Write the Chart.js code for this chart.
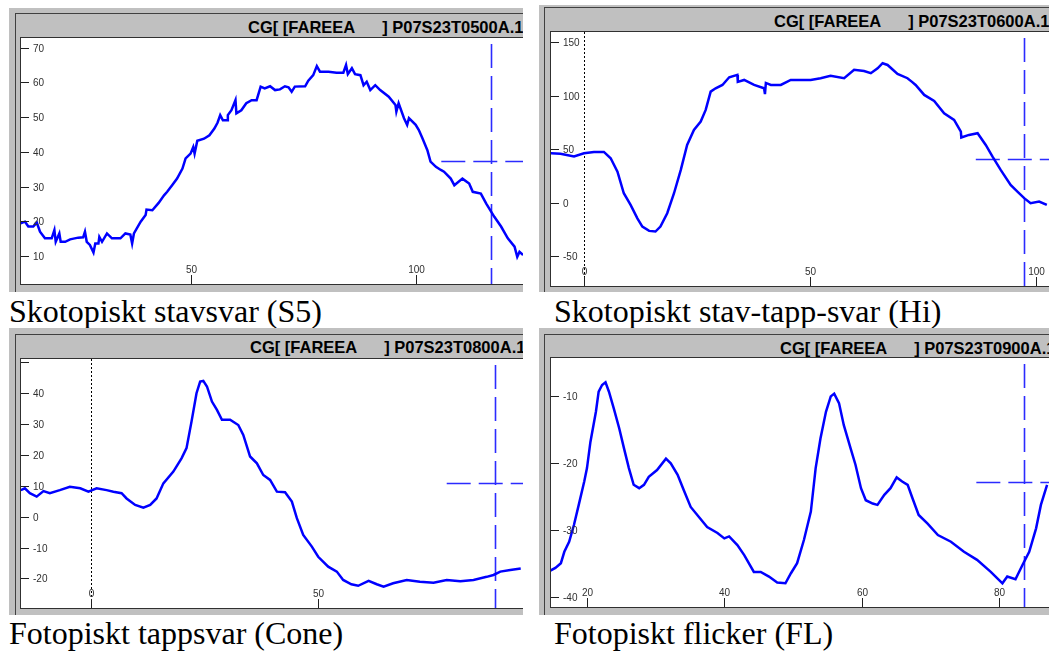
<!DOCTYPE html>
<html>
<head>
<meta charset="utf-8">
<script src="https://cdn.jsdelivr.net/npm/chart.js@4.4.0/dist/chart.umd.min.js"></script>
<style>
body { margin: 0; width: 1049px; height: 652px; background: #fff; position: relative; overflow: hidden; }
.panel { position: absolute; background: #c0c0c0; overflow: hidden; }
.frame { position: absolute; border-left: 1px solid #404040; border-top: 1px solid #404040; width: 2000px; height: 2000px; }
.title { position: absolute; font: bold 16.5px "Liberation Sans", Arial, sans-serif; line-height: 16.5px; white-space: pre; color: #000; }
.plot { position: absolute; background: #fff; border-left: 1px solid #303030; border-top: 1px solid #303030; border-bottom: 1px solid #303030; }
.plot canvas { display: block; }
.caption { position: absolute; font: 32px "Liberation Serif", "Times New Roman", serif; line-height: 32px; white-space: nowrap; color: #000; }
</style>
</head>
<body>
<script>
// --- data ---

// Skotopiskt stavsvar (S5)
var s5X = [11.95, 13.06, 13.8, 14.9, 15.7, 16.4, 17.5, 19.0, 19.6, 19.9,
	20.7, 21.0, 22.0, 23.1, 24.9, 26.0, 26.4, 26.8, 27.5, 28.3,
	28.7, 29.4, 29.6, 30.2, 31.3, 32.4, 34.3, 35.4, 36.5, 36.9,
	37.3, 38.8, 39.9, 40.1, 41.4, 42.8, 44.0, 44.7, 45.8, 46.9,
	48.1, 48.8, 49.9, 50.5, 50.8, 51.4, 52.9, 54.1, 55.2, 55.9,
	56.5, 57.1, 58.1, 58.2, 59.0, 59.9, 60.1, 61.2, 62.3, 63.5,
	64.6, 65.5, 66.4, 67.6, 68.7, 69.8, 70.9, 71.7, 72.4, 73.1,
	75.4, 76.1, 77.2, 78.0, 78.7, 80.6, 82.4, 83.9, 84.5, 84.9,
	85.8, 86.5, 87.7, 88.4, 89.1, 89.9, 91.0, 92.1, 94.0, 95.5,
	95.7, 96.2, 97.4, 98.1, 98.5, 100.0, 100.7, 101.5, 102.6, 103.3,
	104.5, 105.6, 106.3, 107.8, 108.6, 110.4, 111.9, 112.7, 114.5, 115.7,
	117.5, 119.0, 120.5, 122.0, 122.6, 123.1, 123.9];
var s5Y = [19.4, 19.9, 18.5, 18.5, 19.6, 17.0, 15.1, 15.1, 17.5, 14.1,
	16.5, 14.1, 14.1, 14.8, 15.3, 15.4, 17.0, 14.1, 13.2, 11.0,
	13.6, 13.6, 15.5, 14.1, 16.5, 15.1, 15.1, 16.5, 16.2, 13.6,
	16.5, 19.9, 21.8, 23.4, 23.2, 25.3, 27.5, 28.5, 30.4, 32.3,
	35.2, 38.1, 39.5, 41.4, 39.5, 43.2, 43.8, 44.8, 46.7, 48.4,
	50.6, 49.1, 49.1, 50.6, 52.0, 54.9, 51.1, 52.0, 54.0, 54.9,
	54.9, 58.8, 58.3, 58.9, 57.8, 58.0, 58.9, 58.6, 57.3, 58.8,
	58.9, 60.5, 62.1, 64.7, 63.1, 63.1, 62.8, 62.8, 65.0, 62.4,
	64.1, 62.4, 62.1, 59.2, 60.2, 57.8, 59.2, 57.8, 55.9, 53.5,
	51.6, 54.0, 49.7, 47.8, 49.7, 47.8, 46.3, 43.9, 40.5, 37.2,
	35.7, 34.8, 34.3, 32.3, 30.4, 32.3, 30.9, 28.5, 28.0, 25.1,
	21.3, 18.5, 15.1, 12.7, 9.8, 11.2, 10.3];
var s5YTicks = [10, 20, 30, 40, 50, 60, 70];
var s5XTicks = [50, 100];
var s5Cursor = [116.8, 37.4, 105.7];

// Skotopiskt stav-tapp-svar (Hi)
var hiX = [-7.5, -5.2, -2.2, 0, 2.2, 4.4, 5.9, 7.4, 8.8, 10.3, 11.8, 12.9, 14.4, 15.8, 16.9, 18.4, 19.9, 21.4, 22.8, 24.3,
	25.8, 26.9, 28.0, 29.1, 30.6, 32.1, 33.9, 34.0, 35.4, 37.6, 39.8, 40.0, 40.2, 41.3, 43.5, 45.7, 47.9, 50.1, 52.3, 54.5,
	57.5, 59.7, 61.9, 63.4, 64.9, 66.0, 67.1, 69.3, 71.5, 72.5, 73.3, 75.2, 77.4, 79.6, 81.8, 83.3, 83.4, 85.1, 87.0, 88.8,
	90.3, 92.1, 94.3, 95.8, 97.3, 98.7, 100.6, 102.3];
var hiY = [46.3, 45.7, 43.2, 46.3, 47.5, 47.5, 41.6, 29.1, 8.9, -2.0, -14.5, -22.3, -26.3, -26.9, -22.3, -9.8, 8.9, 30.7, 54.0, 68.1,
	75.9, 86.8, 103.9, 107.0, 110.1, 117.3, 119.5, 113.0, 114.8, 110.1, 107.0, 101.5, 112.0, 110.1, 110.1, 114.8, 114.8, 114.8, 116.4, 118.6,
	116.4, 124.2, 123.2, 121.1, 125.7, 130.4, 128.8, 120.4, 116.4, 113.0, 110.1, 100.8, 95.2, 83.6, 77.4, 66.5, 61.0, 63.4, 65.0, 54.0,
	43.1, 30.7, 16.7, 10.5, 4.3, -0.4, 1.1, -2.0];
var hiYTicks = [-50, 0, 50, 100, 150];
var hiXTicks = [0, 50, 100];
var hiCursor = [97.3, 40.9, 86.6];

// Fotopiskt tappsvar (Cone)
var coneX = [-15.4, -14.5, -13.4, -11.9, -10.4, -9.0, -6.8, -4.6, -2.3, -0.5, 1.3, 3.5, 5.0, 6.8, 7.9, 9.8, 11.6, 13.1, 14.5, 16.0,
	18.2, 20.0, 21.1, 22.2, 23.3, 24.1, 24.8, 25.6, 26.7, 27.8, 28.9, 30.7, 32.5, 33.6, 35.1, 36.6, 38.0, 39.5, 41.0, 42.8,
	44.3, 45.4, 46.8, 48.7, 50.1, 52.3, 54.2, 55.6, 57.4, 58.9, 61.2, 63.0, 64.5, 66.6, 69.6, 72.5, 75.5, 78.4, 81.4, 84.3,
	87.2, 88.7, 90.2, 92.4, 94.7];
var coneY = [8.6, 9.2, 7.6, 6.5, 8.3, 7.6, 8.6, 9.7, 9.2, 8.1, 9.2, 8.6, 8.1, 7.6, 5.9, 3.8, 2.9, 3.8, 5.9, 10.8,
	14.6, 18.9, 22.2, 30.8, 40.0, 43.8, 44.0, 42.2, 37.3, 34.6, 31.4, 31.4, 29.7, 26.5, 19.5, 17.3, 13.5, 11.9, 8.1, 7.9,
	4.9, -0.5, -5.9, -9.7, -13.0, -16.2, -17.8, -20.5, -21.9, -22.4, -20.8, -21.9, -22.7, -21.6, -20.5, -21.1, -21.4, -20.5, -20.9, -20.5,
	-19.5, -18.9, -17.8, -17.3, -16.8];
var coneYTicks = [-20, -10, 0, 10, 20, 30, 40, 50];
var coneYLabels = ['-20', '-10', '0', '10', '20', '30', '40', ''];
var coneXTicks = [0, 50];
var coneCursor = [89.1, 11.0, 78.4];

// Fotopiskt flicker (FL)
var flX = [14.5, 15.4, 16.2, 16.7, 17.4, 18.1, 18.8, 19.6, 20.0, 20.5, 21.3, 21.7, 22.2, 22.7, 23.2, 23.9, 24.7, 25.4, 26.1, 26.8,
	27.6, 28.3, 29.0, 30.2, 31.5, 32.2, 33.2, 34.1, 35.1, 36.3, 37.5, 39.0, 40.0, 40.7, 41.9, 42.9, 44.3, 45.3, 46.5, 47.7,
	48.9, 49.7, 50.6, 51.6, 52.6, 53.3, 54.0, 54.8, 55.5, 56.0, 56.7, 57.4, 58.4, 59.1, 59.9, 60.6, 61.6, 62.3, 63.3, 64.2,
	65.1, 65.9, 66.7, 67.4, 68.3, 69.6, 71.1, 73.0, 74.9, 76.8, 78.8, 80.5, 81.2, 82.4, 83.4, 84.4, 85.4, 86.1, 87.0];
var flY = [-36.2, -35.7, -35.0, -33.3, -31.8, -29.3, -26.3, -22.8, -20.8, -16.9, -12.4, -9.4, -8.4, -8.0, -9.4, -11.9, -14.9, -17.9, -20.8, -23.3,
	-23.8, -23.3, -22.1, -21.1, -19.4, -20.1, -21.8, -24.1, -26.6, -28.1, -29.6, -30.5, -31.3, -31.0, -32.3, -33.8, -36.3, -36.3, -37.0, -37.9,
	-38.0, -36.5, -35.0, -31.5, -27.3, -20.8, -16.4, -12.4, -10.1, -9.7, -11.1, -14.4, -17.9, -20.3, -23.8, -25.6, -26.1, -26.3, -24.8, -23.8,
	-22.2, -22.8, -23.3, -25.3, -27.8, -29.1, -30.8, -31.8, -33.3, -34.5, -36.3, -38.0, -37.0, -37.4, -35.3, -33.3, -29.8, -26.3, -23.3];
var flYTicks = [-40, -30, -20, -10];
var flXTicks = [20, 40, 60, 80];
var flCursor = [83.6, -22.9, 76.7];

// --- drawing ---

// ticks inside the plot, cursor cross and the dotted zero line
function ergPlugin(p) {
	return {
		id: 'erg',
		beforeDatasetsDraw(chart) {
			var ctx = chart.ctx, a = chart.chartArea, x = chart.scales.x, y = chart.scales.y;
			ctx.save();
			if (p.zeroLine) {
				var zx = Math.round(x.getPixelForValue(0)) + 0.5;
				ctx.strokeStyle = '#000';
				ctx.lineWidth = 1;
				ctx.setLineDash([2, 2]);
				ctx.beginPath();
				ctx.moveTo(zx, a.top);
				ctx.lineTo(zx, a.bottom);
				ctx.stroke();
			}
			var cx = Math.round(x.getPixelForValue(p.cursor[0])) + 0.5;
			var cy = Math.round(y.getPixelForValue(p.cursor[1])) + 0.5;
			var cs = x.getPixelForValue(p.cursor[2]);
			ctx.strokeStyle = '#2b2bff';
			ctx.lineWidth = 1.6;
			ctx.setLineDash([24, 8]);
			ctx.beginPath();
			ctx.moveTo(cx, a.top + 6);
			ctx.lineTo(cx, a.bottom);
			ctx.moveTo(cs, cy);
			ctx.lineTo(a.right, cy);
			ctx.stroke();
			ctx.restore();
		},
		afterDraw(chart) {
			var ctx = chart.ctx, a = chart.chartArea, x = chart.scales.x, y = chart.scales.y;
			ctx.save();
			ctx.strokeStyle = '#202020';
			ctx.fillStyle = '#303030';
			ctx.lineWidth = 1;
			ctx.font = '10px "Liberation Sans", Arial, sans-serif';
			ctx.textAlign = 'left';
			ctx.textBaseline = 'middle';
			p.yTicks.forEach(function (v, i) {
				var py = Math.round(y.getPixelForValue(v)) + 0.5;
				ctx.beginPath();
				ctx.moveTo(a.left, py);
				ctx.lineTo(a.left + 8, py);
				ctx.stroke();
				var lbl = p.yLabels ? p.yLabels[i] : String(v);
				ctx.fillText(lbl, a.left + 12, py + 0.5);
			});
			ctx.textAlign = 'center';
			ctx.textBaseline = 'bottom';
			p.xTicks.forEach(function (v) {
				var px = Math.round(x.getPixelForValue(v)) + 0.5;
				ctx.beginPath();
				ctx.moveTo(px, a.bottom);
				ctx.lineTo(px, a.bottom - 9);
				ctx.stroke();
				ctx.fillText(String(v), px, a.bottom - 9);
			});
			ctx.restore();
		}
	};
}

function makePanel(p) {
	var panel = document.createElement('div');
	panel.className = 'panel';
	panel.style.cssText = 'left:' + p.box[0] + 'px;top:' + p.box[1] + 'px;width:' + p.box[2] + 'px;height:' + p.box[3] + 'px;';
	document.body.appendChild(panel);

	var frame = document.createElement('div');
	frame.className = 'frame';
	frame.style.left = p.frame[0] + 'px';
	frame.style.top = p.frame[1] + 'px';
	panel.appendChild(frame);

	var title = document.createElement('div');
	title.className = 'title';
	title.style.left = p.titlePos[0] + 'px';
	title.style.top = p.titlePos[1] + 'px';
	title.textContent = p.title;
	panel.appendChild(title);

	var plot = document.createElement('div');
	plot.className = 'plot';
	plot.style.cssText = 'left:' + p.plot[0] + 'px;top:' + p.plot[1] + 'px;width:' + p.plot[2] + 'px;height:' + p.plot[3] + 'px;';
	panel.appendChild(plot);

	var canvas = document.createElement('canvas');
	canvas.width = p.plot[2];
	canvas.height = p.plot[3];
	plot.appendChild(canvas);

	var pts = p.xs.map(function (v, i) { return {x: v, y: p.ys[i]}; });
	new Chart(canvas.getContext('2d'), {
		type: 'line',
		data: {
			datasets: [{
				data: pts,
				borderColor: '#0000ff',
				borderWidth: 2.5,
				borderJoinStyle: 'miter',
				pointRadius: 0,
				tension: 0,
				fill: false
			}]
		},
		options: {
			responsive: false,
			animation: false,
			devicePixelRatio: 1,
			parsing: false,
			layout: { padding: 0 },
			scales: {
				x: { type: 'linear', display: false, min: p.xRange[0], max: p.xRange[1] },
				y: { type: 'linear', display: false, min: p.yRange[0], max: p.yRange[1] }
			},
			plugins: { legend: { display: false }, tooltip: { enabled: false } }
		},
		plugins: [ergPlugin(p)]
	});

	var cap = document.createElement('div');
	cap.className = 'caption';
	cap.style.left = p.captionPos[0] + 'px';
	cap.style.top = p.captionPos[1] + 'px';
	cap.textContent = p.caption;
	document.body.appendChild(cap);
}

var head = 'CG[ [FAREEA      ] P07S23T0';

makePanel({
	box: [9, 8, 514, 284], frame: [6, 5], titlePos: [239, 10.5], plot: [11, 29, 502, 246],
	title: head + '500A.1', caption: 'Skotopiskt stavsvar (S5)', captionPos: [9, 295],
	xs: s5X, ys: s5Y, xRange: [12.17, 123.88], yRange: [1.95, 72.8],
	yTicks: s5YTicks, xTicks: s5XTicks, cursor: s5Cursor, zeroLine: false
});

makePanel({
	box: [539, 5, 510, 287], frame: [5, 2], titlePos: [235, 7.7], plot: [11, 26, 498, 254],
	title: head + '600A.1', caption: 'Skotopiskt stav-tapp-svar (Hi)', captionPos: [554, 295],
	xs: hiX, ys: hiY, xRange: [-7.29, 102.78], yRange: [-77.8, 159.6],
	yTicks: hiYTicks, xTicks: hiXTicks, cursor: hiCursor, zeroLine: true
});

makePanel({
	box: [9, 328, 514, 287], frame: [6, 6], titlePos: [241, 11], plot: [11, 30, 502, 249],
	title: head + '800A.1', caption: 'Fotopiskt tappsvar (Cone)', captionPos: [9, 616.5],
	xs: coneX, ys: coneY, xRange: [-15.35, 95.2], yRange: [-29.6, 51.1],
	yTicks: coneYTicks, yLabels: coneYLabels, xTicks: coneXTicks, cursor: coneCursor, zeroLine: true
});

makePanel({
	box: [539, 328, 510, 287], frame: [5, 6], titlePos: [241, 12], plot: [11, 29, 498, 249],
	title: head + '900A.1', caption: 'Fotopiskt flicker (FL)', captionPos: [554, 616.5],
	xs: flX, ys: flY, xRange: [14.76, 87.28], yRange: [-41.54, -4.37],
	yTicks: flYTicks, xTicks: flXTicks, cursor: flCursor, zeroLine: false
});
</script>
</body>
</html>
